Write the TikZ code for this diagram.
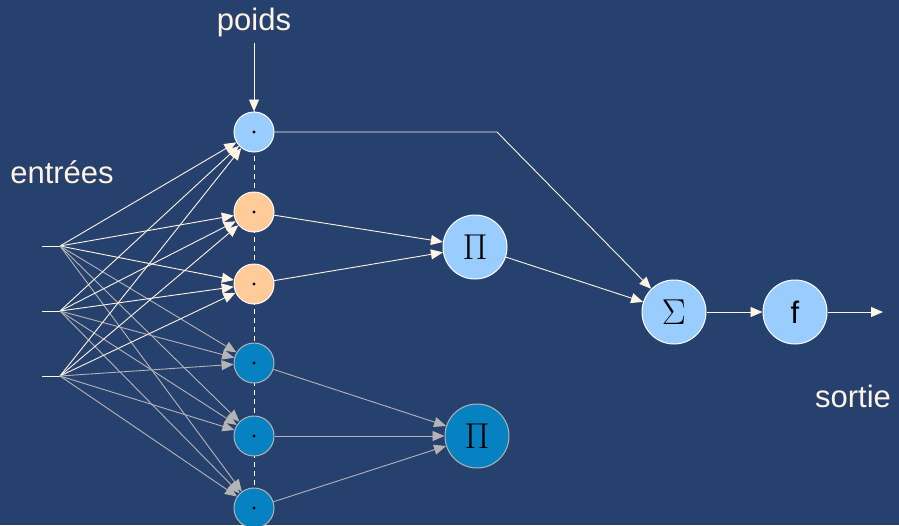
\documentclass[tikz,border=0pt]{standalone}
\usepackage{fix-cm}
\usepackage{fontspec}
\setmainfont{Liberation Sans}
\usetikzlibrary{arrows.meta}
\definecolor{bg}{HTML}{27416F}
\definecolor{cream}{HTML}{FFF4E4}
\definecolor{greyline}{HTML}{B4B4B4}
\definecolor{lightblue}{HTML}{99CCFF}
\definecolor{peach}{HTML}{FFCC99}
\definecolor{darkblue}{HTML}{0682C2}
\begin{document}
\begin{tikzpicture}[x=1pt,y=-1pt,
  tip/.style={-{Triangle[length=12pt,width=10pt]}},
  lightline/.style={draw=cream,line width=0.9pt,tip},
  greyconn/.style={draw=greyline,line width=0.9pt,tip},
  small/.style={circle,minimum size=40pt,inner sep=0pt,line width=1pt},
  big/.style={circle,minimum size=64pt,inner sep=0pt,line width=1pt,font=\fontsize{31}{36}\selectfont},
  mathbig/.style={big,font=\fontsize{36}{40}\selectfont},
  lightnode/.style={fill=lightblue,draw=white},
  peachnode/.style={fill=peach,draw=white},
  darknode/.style={fill=darkblue,draw=greyline},
  lbl/.style={text=cream,font=\fontsize{31}{36}\selectfont}]
\fill[bg] (0,0) rectangle (899,525);
\useasboundingbox (0,0) rectangle (899,525);
% dashed column line
\coordinate (dtop) at (254,75);
\coordinate (dbot) at (254,525);
\draw[white,line width=1pt,dash pattern=on 5pt off 4pt] (dtop) -- (dbot);
% neurons
\node[small,lightnode] (c1) at (254,132) {};
\node[small,peachnode] (c2) at (254,212) {};
\node[small,peachnode] (c3) at (254,284) {};
\node[small,darknode] (c4) at (254,363) {};
\node[small,darknode] (c5) at (254,436) {};
\node[small,darknode] (c6) at (254,508) {};
\foreach \n in {c1,c2,c3,c4,c5,c6} \fill[black] (\n) circle (1.7pt);
\node[mathbig,lightnode] (p1) at (475,247) {$\Pi$};
\node[mathbig,darknode] (p2) at (477,436) {$\Pi$};
\node[mathbig,lightnode] (s) at (674,312) {$\Sigma$};
\node[big,lightnode] (f) at (795,312) {f};
% labels
\node[lbl] (poids) at (254,22) {poids};
\node[lbl] (entrees) at (62,172) {entrées};
\node[lbl] (sortie) at (853,396) {sortie};
% inputs
\foreach \k/\y in {1/246,2/311,3/376}{
  \coordinate (a\k) at (42,\y);
  \coordinate (i\k) at (60,\y);
  \draw[cream,line width=0.9pt] (a\k) -- (i\k);
  \foreach \c in {c1,c2,c3} \draw[lightline] (i\k) -- (\c);
  \foreach \c in {c4,c5,c6} \draw[greyconn] (i\k) -- (\c);
}
% poids arrow
\coordinate (pw) at (254,43);
\draw[lightline] (pw) -- (c1);
% to products
\draw[lightline] (c2) -- (p1);
\draw[lightline] (c3) -- (p1);
\draw[greyconn] (c4) -- (p2);
\draw[greyconn] (c5) -- (p2);
\draw[greyconn] (c6) -- (p2);
% to sum
\coordinate (bend) at (497,132);
\draw[lightline] (c1.east) -- (bend) -- (s);
\draw[lightline] (p1) -- (s);
\draw[lightline] (s) -- (f);
\coordinate (out) at (883,312);
\draw[lightline] (f) -- (out);
\end{tikzpicture}
\end{document}
